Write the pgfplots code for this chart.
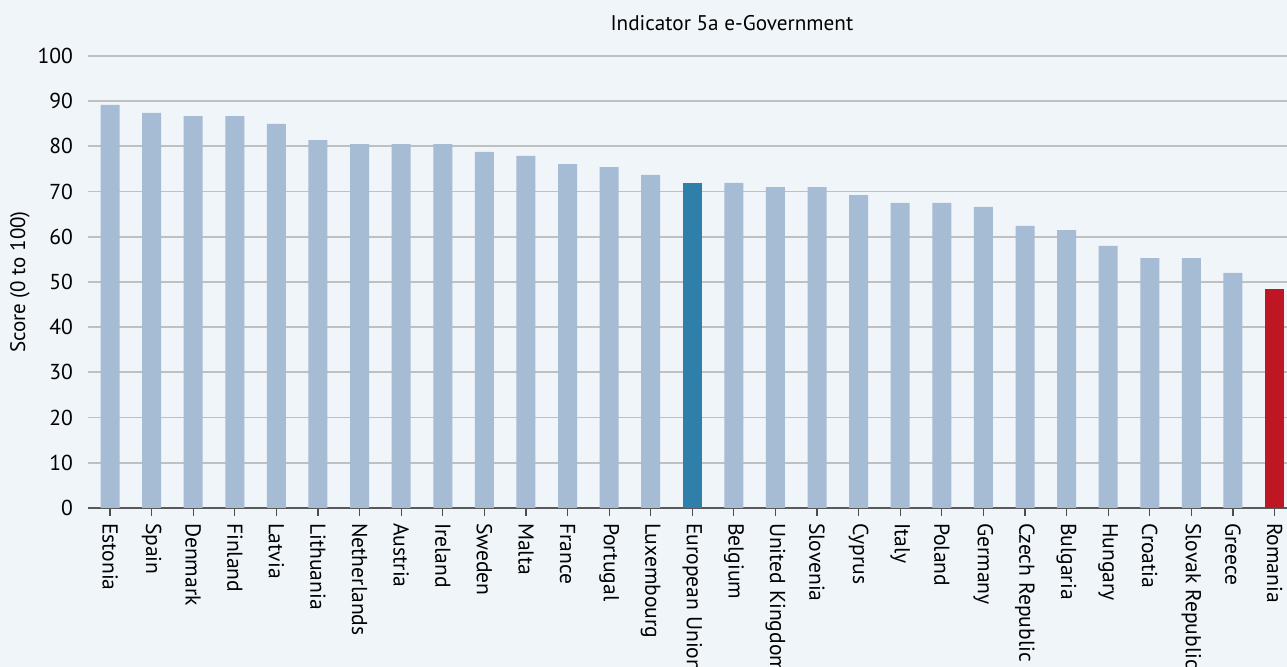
\documentclass[border=0pt]{standalone}
\usepackage{fontspec}
\setmainfont{PT Sans}
\usepackage{pgfplots}
\pgfplotsset{compat=1.18}
\definecolor{bg}{RGB}{240,245,250}
\definecolor{barc}{RGB}{166,187,212}
\definecolor{euc}{RGB}{46,128,171}
\definecolor{roc}{RGB}{190,22,34}
\definecolor{gridc}{RGB}{192,192,192}
\begin{document}
\begin{tikzpicture}
\fill[bg] (0,0) rectangle (643.5pt,333.5pt);
\path[use as bounding box] (0,0) rectangle (643.5pt,333.5pt);
\begin{axis}[
  at={(44pt,79.5pt)}, anchor=south west,
  width=599.5pt, height=226pt, scale only axis,
  xmin=-0.53, xmax=28.3, ymin=0, ymax=100,
  ytick={0,10,...,100},
  xtick={0,...,28},
  xticklabels={Estonia,Spain,Denmark,Finland,Latvia,Lithuania,Netherlands,Austria,Ireland,Sweden,Malta,France,Portugal,Luxembourg,European Union,Belgium,United Kingdom,Slovenia,Cyprus,Italy,Poland,Germany,Czech Republic,Bulgaria,Hungary,Croatia,Slovak Republic,Greece,Romania},
  xticklabel style={rotate=-90, anchor=west, font=\fontsize{10.8}{12}\selectfont},
  yticklabel style={font=\fontsize{10.8}{12}\selectfont},
  /pgf/number format/assume math mode=true,
  axis x line*=bottom, axis y line*=left,
  x axis line style={draw=black!65, line width=0.7pt, -},
  y axis line style={draw=none},
  ymajorgrids, grid style={gridc, line width=0.9pt},
  xtick style={draw=black!70, line width=0.6pt},
  ytick style={draw=none},
  tick align=outside, major tick length=4pt,
  ylabel={Score (0 to 100)},
  ylabel style={at={(axis description cs:-0.0567,0.5)}, anchor=center, font=\fontsize{10.5}{12}\selectfont},
  title={Indicator 5a e-Government},
  title style={at={(axis description cs:0.537,1)}, anchor=south, yshift=3pt, font=\fontsize{10.6}{12}\selectfont},
  ybar, bar width=9.5pt, bar shift=0pt,
]
\addplot[fill=barc, draw=none] coordinates {
(0,89.2) (1,87.4) (2,86.7) (3,86.7) (4,85.0) (5,81.4) (6,80.5) (7,80.5) (8,80.5) (9,78.8) (10,77.9) (11,76.1) (12,75.4) (13,73.7)
(15,71.9) (16,71.0) (17,71.0) (18,69.2) (19,67.5) (20,67.5) (21,66.6) (22,62.4) (23,61.5) (24,58.0) (25,55.3) (26,55.3) (27,52.0)};
\addplot[fill=euc, draw=none] coordinates {(14,71.9)};
\addplot[fill=roc, draw=none] coordinates {(28,48.5)};
\end{axis}
\end{tikzpicture}
\end{document}
